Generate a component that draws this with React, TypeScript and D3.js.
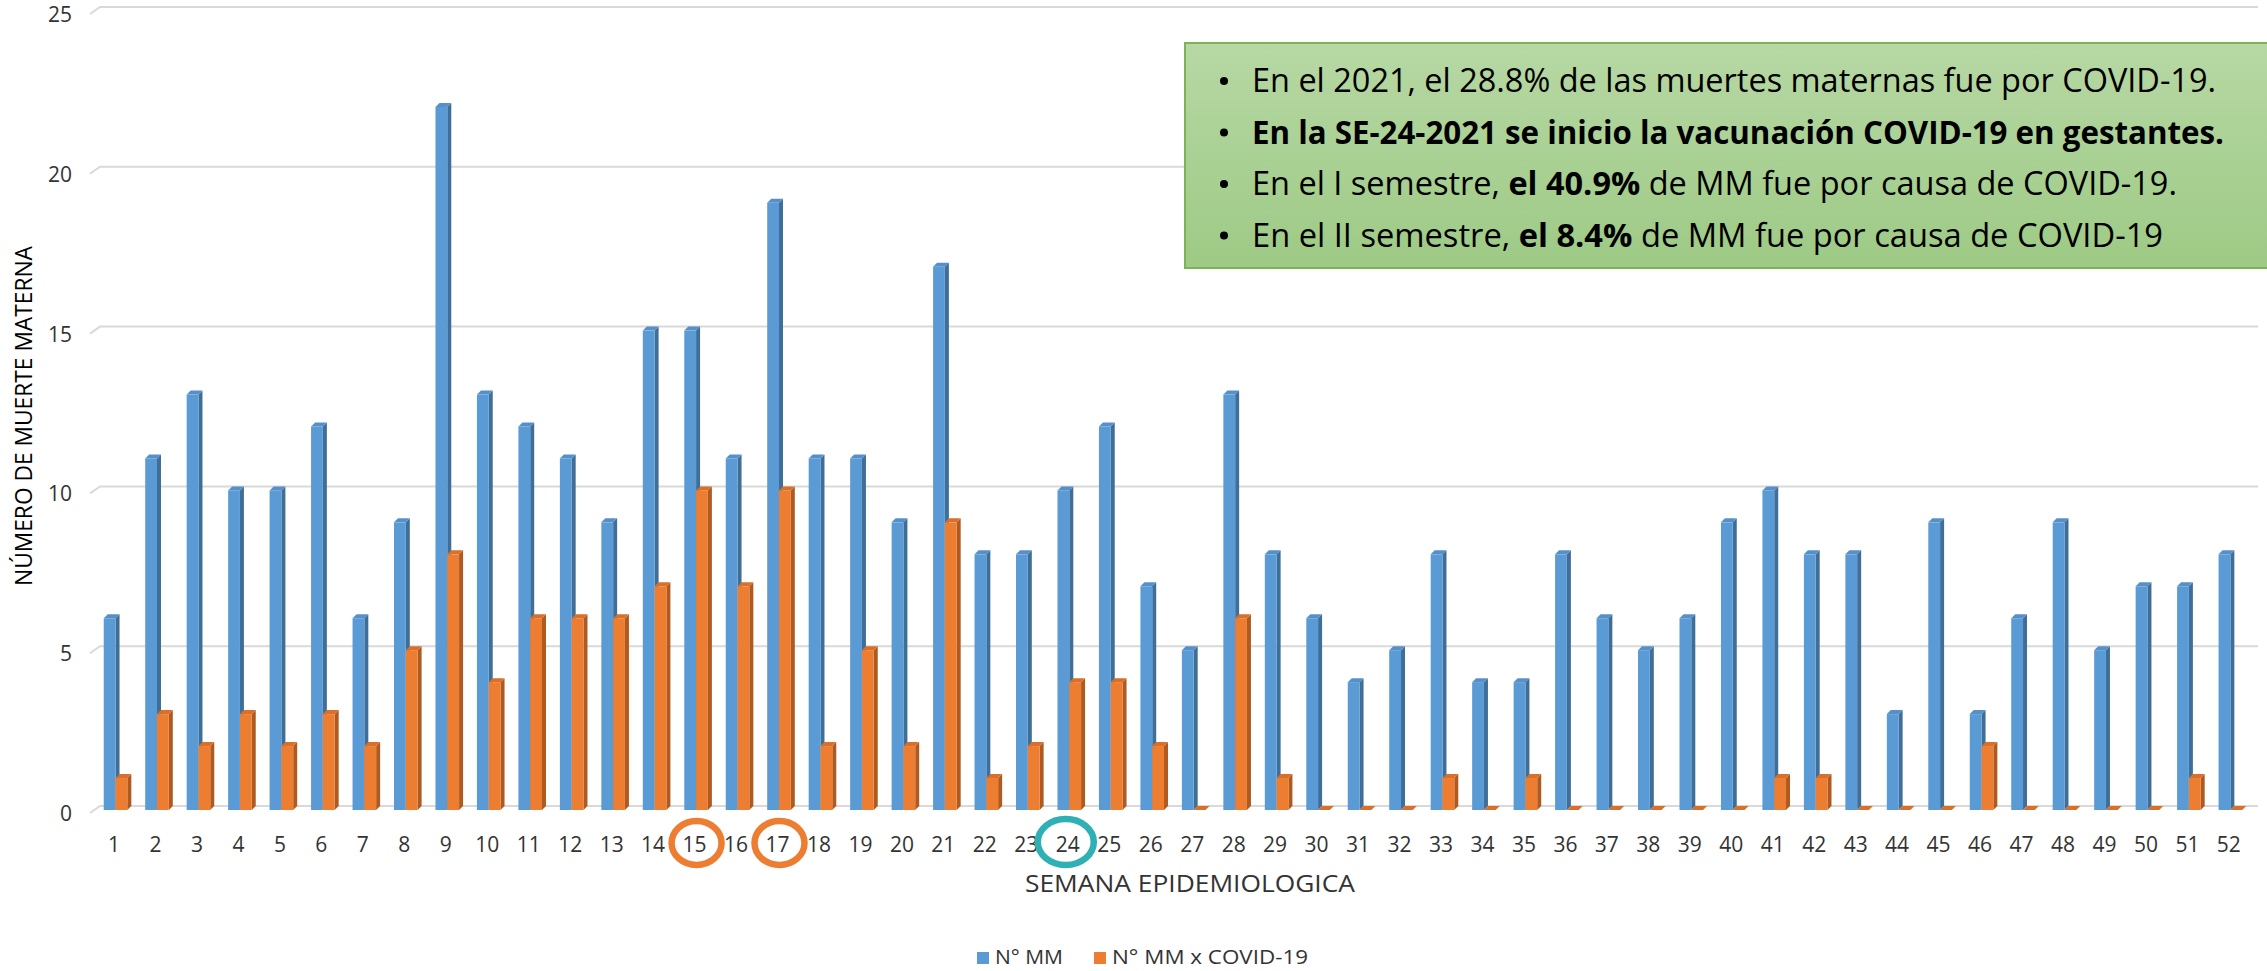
import React from "react";
import * as d3 from "d3";

const weeks: number[] = Array.from({ length: 52 }, (_, i) => i + 1);
const totalMM: number[] = [
  6, 11, 13, 10, 10, 12, 6, 9, 22, 13, 12, 11, 9, 15, 15, 11, 19, 11, 11, 9,
  17, 8, 8, 10, 12, 7, 5, 13, 8, 6, 4, 5, 8, 4, 4, 8, 6, 5, 6, 9,
  10, 8, 8, 3, 9, 3, 6, 9, 5, 7, 7, 8,
];
const covidMM: number[] = [
  1, 3, 2, 3, 2, 3, 2, 5, 8, 4, 6, 6, 6, 7, 10, 7, 10, 2, 5, 2,
  9, 1, 2, 4, 4, 2, 0, 6, 1, 0, 0, 0, 1, 0, 1, 0, 0, 0, 0, 0,
  1, 1, 0, 0, 0, 2, 0, 0, 0, 0, 1, 0,
];
const yTicks: number[] = [0, 5, 10, 15, 20, 25];
const orangeCircled: number[] = [15, 17];
const tealCircled: number[] = [24];
const seriesNames: string[] = ["N° MM", "N° MM x COVID-19"];

const W = 2267;
const H = 971;
const FONT = "'Open Sans', 'Noto Sans', sans-serif";

const BLUE = { front: "#5B9BD5", side: "#3F6E98", top: "#5690C8" };
const ORANGE = { front: "#ED7D31", side: "#AE5A21", top: "#D8702A" };

const DX = 4;
const DY = -4;

function Bar3D({ x, w, y0, y1, c }: { x: number; w: number; y0: number; y1: number; c: { front: string; side: string; top: string } }) {
  const h = y0 - y1;
  return (
    <g>
      <polygon
        points={`${x + w},${y1} ${x + w + DX},${y1 + DY} ${x + w + DX},${y0 + DY} ${x + w},${y0}`}
        fill={c.side}
      />
      <polygon
        points={`${x},${y1} ${x + DX},${y1 + DY} ${x + w + DX},${y1 + DY} ${x + w},${y1}`}
        fill={c.top}
      />
      {h > 0 && <rect x={x} y={y1} width={w} height={h} fill={c.front} />}
    </g>
  );
}

export default function App() {
  const x = d3.scaleBand<number>().domain(weeks).range([93.3, 2249.6]).padding(0);
  const y = d3.scaleLinear().domain([0, 25]).range([810, 11]);
  const bw = 11.8;

  const cx = (wk: number) => (x(wk) as number) + x.bandwidth() / 2;

  return (
    <svg
      width={W}
      height={H}
      style={{ position: "absolute", left: 0, top: 0, background: "#fff" }}
      fontFamily={FONT}
    >
      {/* gridlines */}
      {yTicks.map((t) => (
        <g key={`g${t}`}>
          <polyline
            points={`90,${y(t) + 3} 100,${y(t) - 4} 2258,${y(t) - 4}`}
            fill="none"
            stroke="#D9D9D9"
            strokeWidth={2}
          />
          <text x={72} y={y(t) + 11} textAnchor="end" fontSize={21} fill="#333">
            {t}
          </text>
        </g>
      ))}

      {/* bars */}
      {weeks.map((wk, i) => {
        const c = cx(wk);
        return (
          <g key={`b${wk}`}>
            <Bar3D x={c - 10.3} w={bw} y0={y(0)} y1={y(totalMM[i])} c={BLUE} />
            <Bar3D x={c - 10.3 + bw} w={bw} y0={y(0)} y1={y(covidMM[i])} c={ORANGE} />
          </g>
        );
      })}

      {/* x tick labels */}
      {weeks.map((wk) => (
        <text key={`l${wk}`} x={cx(wk)} y={851.5} textAnchor="middle" fontSize={21} fill="#333">
          {wk}
        </text>
      ))}

      {/* annotation circles */}
      {orangeCircled.map((wk) => (
        <ellipse key={`o${wk}`} cx={cx(wk) + 2} cy={843} rx={25} ry={22} fill="none" stroke="#ED7D31" strokeWidth={6.5} />
      ))}
      {tealCircled.map((wk) => (
        <ellipse key={`t${wk}`} cx={cx(wk) - 2} cy={842} rx={28} ry={23} fill="none" stroke="#2EB0B4" strokeWidth={6.5} />
      ))}

      {/* axis titles */}
      <text x={1190} y={892} textAnchor="middle" fontSize={23} fill="#333" textLength={330} lengthAdjust="spacingAndGlyphs">
        SEMANA EPIDEMIOLOGICA
      </text>
      <text
        transform="translate(32,416) rotate(-90)"
        textAnchor="middle"
        fontSize={23}
        fill="#000"
        textLength={340}
        lengthAdjust="spacingAndGlyphs"
      >
        NÚMERO DE MUERTE MATERNA
      </text>

      {/* legend */}
      <rect x={977} y={952} width={12} height={12} fill={BLUE.front} />
      <text x={995} y={963.5} fontSize={20} fill="#333" textLength={68} lengthAdjust="spacingAndGlyphs">
        {seriesNames[0]}
      </text>
      <rect x={1094} y={952} width={12} height={12} fill={ORANGE.front} />
      <text x={1112} y={963.5} fontSize={20} fill="#333" textLength={196} lengthAdjust="spacingAndGlyphs">
        {seriesNames[1]}
      </text>

      {/* text box */}
      <defs>
        <linearGradient id="greenGrad" x1="0" y1="0" x2="0" y2="1">
          <stop offset="0" stopColor="#B7D8A4" />
          <stop offset="1" stopColor="#9DCA85" />
        </linearGradient>
      </defs>
      <rect x={1185} y={43} width={1100} height={225} fill="url(#greenGrad)" stroke="#7DB356" strokeWidth={2} />
      <g fontSize={32} fill="#000">
        {[92, 143.5, 195, 246.5].map((by) => (
          <circle key={`bul${by}`} cx={1224} cy={by - 11} r={4} fill="#000" />
        ))}
        <text x={1252} y={92} textLength={964} lengthAdjust="spacingAndGlyphs">
          En el 2021, el 28.8% de las muertes maternas fue por COVID-19.
        </text>
        <text x={1252} y={143.5} fontWeight="bold" textLength={972} lengthAdjust="spacingAndGlyphs">
          En la SE-24-2021 se inicio la vacunación COVID-19 en gestantes.
        </text>
        <text x={1252} y={195} textLength={925} lengthAdjust="spacingAndGlyphs">
          En el I semestre, <tspan fontWeight="bold">el 40.9%</tspan> de MM fue por causa de COVID-19.
        </text>
        <text x={1252} y={246.5} textLength={911} lengthAdjust="spacingAndGlyphs">
          En el II semestre, <tspan fontWeight="bold">el 8.4%</tspan> de MM fue por causa de COVID-19
        </text>
      </g>
    </svg>
  );
}
